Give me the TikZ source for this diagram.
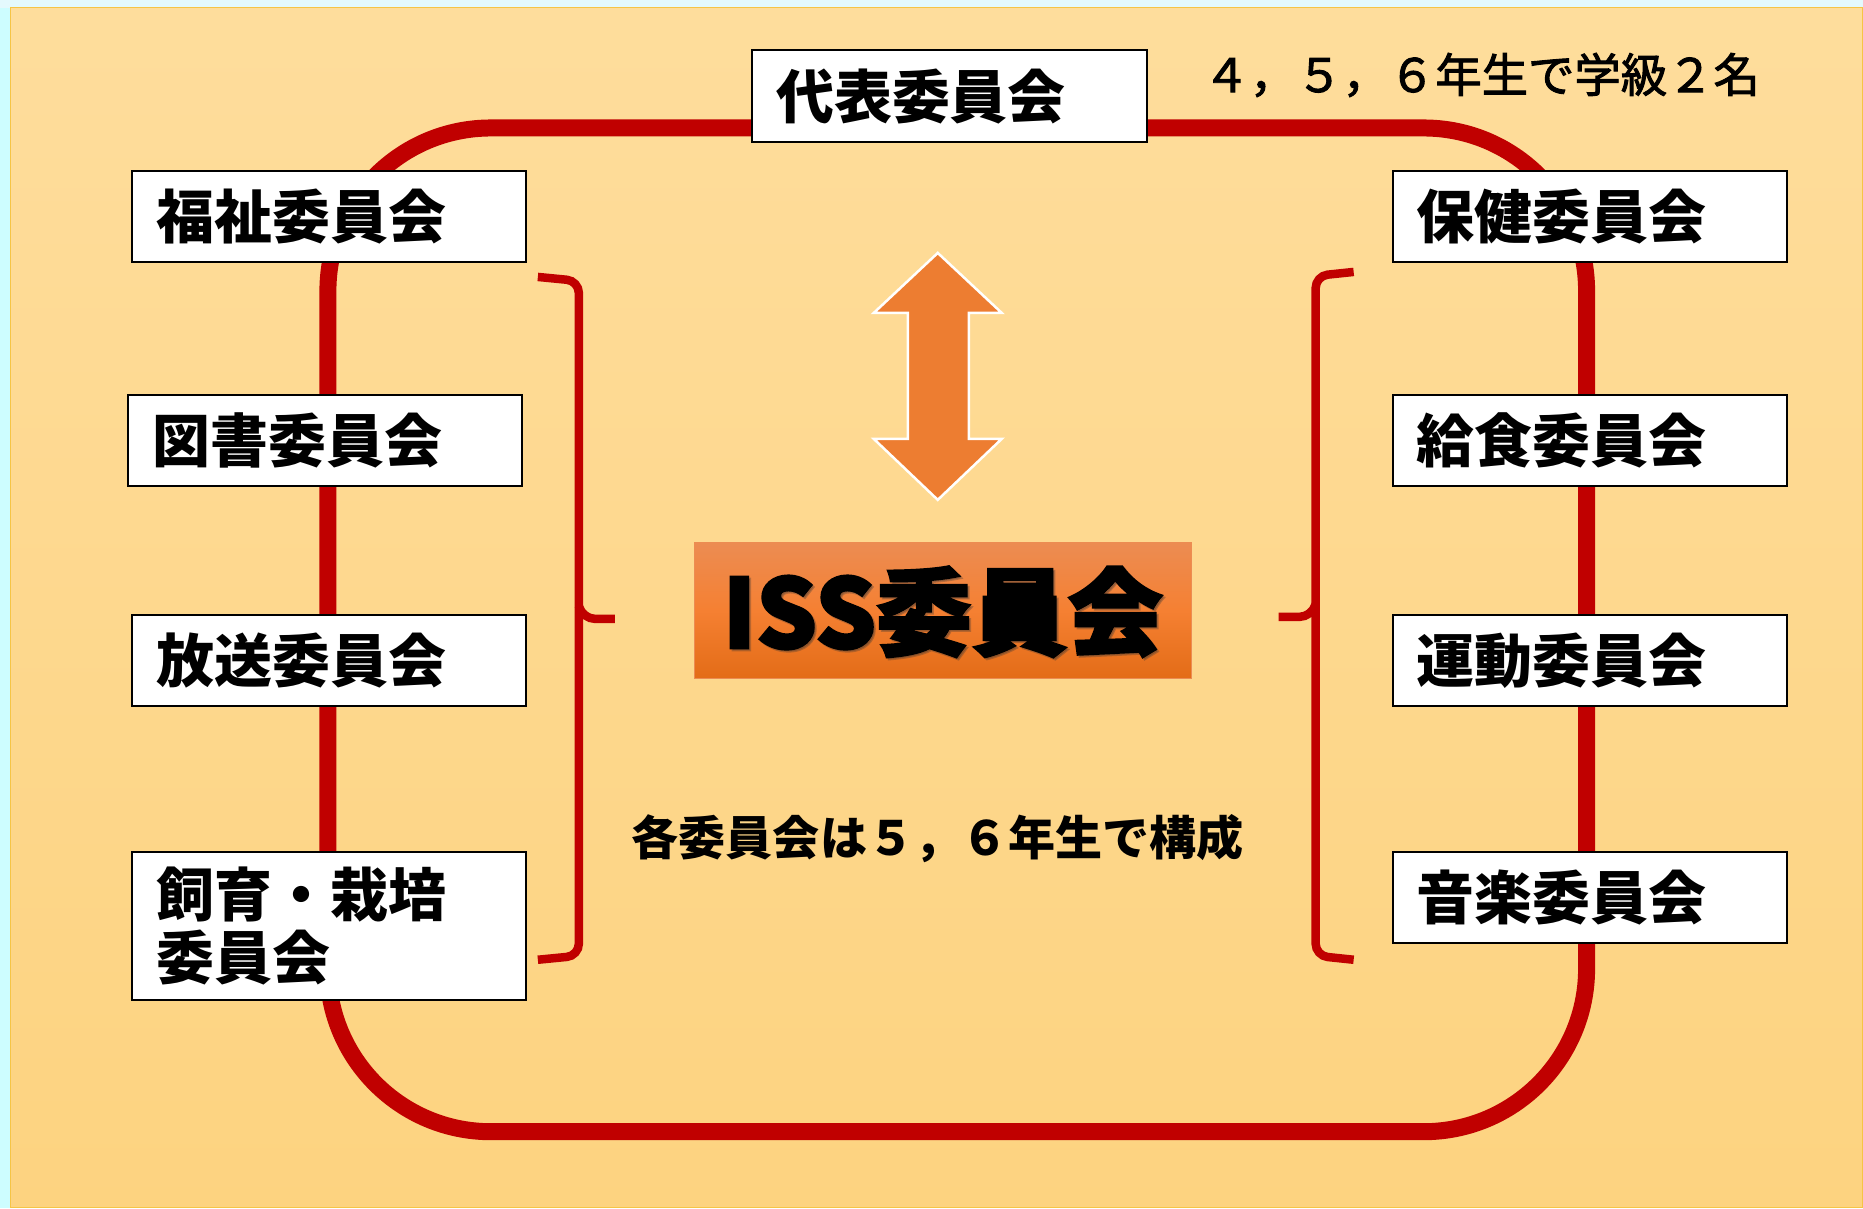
\documentclass[tikz,border=0pt]{standalone}
\usepackage{fontspec}
\setmainfont{Noto Sans CJK JP}
\newfontfamily\notefont{Noto Sans CJK JP}[UprightFeatures={FakeBold=2}]
\newfontfamily\heavyfont{Noto Sans CJK JP}[BoldFeatures={FakeBold=2.5}]
\usepackage{tikz}
\usetikzlibrary{positioning,calc}
\definecolor{colorframe}  {RGB}{192,  0,  0}
\definecolor{colorarrow}  {RGB}{237,125, 49}
\definecolor{colorbgtop}  {RGB}{254,221,156}
\definecolor{colorbgbot}  {RGB}{253,211,128}
\definecolor{colorbgline} {RGB}{246,196, 69}
\definecolor{colorsky}    {RGB}{205,253,255}
\definecolor{colorskytop} {RGB}{228,249,253}
\definecolor{colorisstop} {RGB}{236,140, 82}
\definecolor{colorissmid} {RGB}{245,128, 50}
\definecolor{colorissbot} {RGB}{227,108, 23}

\begin{document}
\begin{tikzpicture}[
    x=0.1mm, y=-0.1mm,
    committee/.style={draw=black,line width=0.25mm,fill=white,anchor=north west,
        inner xsep=2.4mm,inner ysep=0pt,text width=34.6mm,minimum height=9.1mm,align=left,
        font={\fontsize{16.5}{18.2}\selectfont\bfseries}},
    frame/.style={draw=colorframe,line width=1.7mm,rounded corners=16.3mm},
    brace/.style={draw=colorframe,line width=0.85mm,rounded corners=1.2mm},
    note/.style={inner sep=0pt,font={\fontsize{13.2}{15}\selectfont\notefont}},
    isstext/.style={inner sep=0pt,font={\fontsize{27.2}{30}\selectfont\heavyfont\bfseries}},
]

    % background
    \fill[colorsky] (0,0) rectangle (1863,1208);
    \fill[colorskytop] (0,0) rectangle (1863,8);
    \shade[top color=colorbgtop,bottom color=colorbgbot,draw=colorbgline,line width=0.1mm]
        (11,8) rectangle (1863,1208);
    \useasboundingbox (0,0) rectangle (1863,1208);

    % red loop behind the committees
    \draw[frame] (328,128) rectangle (1587,1132);

    % brackets
    \draw[brace] (538,277) -- (579,281) -- (579,956) -- (538,960);
    \draw[brace] (579,606) -- (583,619) -- (615,619);
    \draw[brace] (1354,272) -- (1316,276) -- (1316,956) -- (1354,960);
    \draw[brace] (1316,604) -- (1312,617) -- (1279,617);

    % double arrow
    \filldraw[fill=colorarrow,draw=white,line width=0.25mm]
        (938,253) -- (1002,313) -- (969,313) -- (969,439) -- (1002,439) -- (938,500)
        -- (874,439) -- (908,439) -- (908,313) -- (874,313) -- cycle;

    \node[committee,text width=34.7mm,minimum height=9.2mm] (daihyo) at (751,49) {代表委員会};
    \node[note,anchor=west] (daihyonote) at (1203,75) {４，５，６年生で学級２名};

    \node[committee] (fukushi) at (131,170) {福祉委員会};
    \node[committee] (tosho)   at (127,394) {図書委員会};
    \node[committee] (hoso)    at (131,614) {放送委員会};
    \node[committee,minimum height=14.8mm] (shiiku) at (131,851) {飼育・栽培\\委員会};

    \node[committee] (hoken)   at (1392,170) {保健委員会};
    \node[committee] (kyushoku) at (1392,394) {給食委員会};
    \node[committee] (undo)    at (1392,614) {運動委員会};
    \node[committee] (ongaku)  at (1392,851) {音楽委員会};

    \shade[top color=colorisstop,bottom color=colorissbot,middle color=colorissmid,
        draw=colorisstop,line width=0.1mm] (695,543) rectangle (1192,679);
    \node[isstext,text=black!80,opacity=0.3] at (945,614) {ISS委員会};
    \node[isstext] (iss) at (943,612) {ISS委員会};

    \node[note,font={\fontsize{13.4}{15}\selectfont\bfseries}] (kosei) at (938,839) {各委員会は５，６年生で構成};

\end{tikzpicture}
\end{document}
